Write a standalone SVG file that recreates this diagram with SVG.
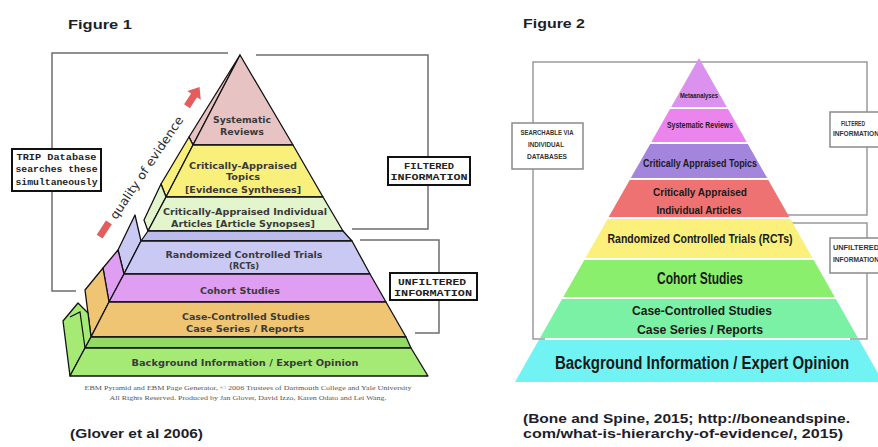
<svg xmlns="http://www.w3.org/2000/svg" width="878" height="447" viewBox="0 0 878 447">
<style>
.title{font-family:"Liberation Sans",Arial,sans-serif;font-weight:900;font-size:13px;fill:#1e1e2a}
.cite{font-family:"Liberation Sans",Arial,sans-serif;font-weight:bold;font-size:13px;fill:#1e1e2a}
.br1{fill:none;stroke:#6e6e6e;stroke-width:1.5}
.br2{fill:none;stroke:#9a9a9a;stroke-width:1.5}
.box1{fill:#fff;stroke:#111;stroke-width:2}
.box2{fill:#fff;stroke:#8a8a8a;stroke-width:1.5}
.mono{font-family:"Liberation Mono","DejaVu Sans Mono",monospace;font-weight:bold;font-size:9px;fill:#222;text-anchor:middle}
.tier1{stroke:#111;stroke-width:1.3;stroke-linejoin:round}
.t1{font-family:"DejaVu Sans",Verdana,sans-serif;font-weight:bold;font-size:8.5px;fill:#3a3a3a;text-anchor:middle}
.t2{font-family:"Liberation Sans",Arial,sans-serif;font-weight:bold;fill:#1a1a1a;text-anchor:middle}
.small2{font-family:"Liberation Sans",Arial,sans-serif;font-weight:bold;font-size:6.5px;fill:#333;text-anchor:middle}
.copy{font-family:"Liberation Serif","Times New Roman",serif;font-size:5.6px;fill:#555;text-anchor:middle}
</style>

<!-- ===== Figure 1 ===== -->
<text class="title" x="68" y="29" textLength="64" lengthAdjust="spacingAndGlyphs">Figure 1</text>

<g id="fig1-connectors">
  <polyline class="br1" points="52,149 52,53 228,53"/>
  <polyline class="br1" points="52,191 52,291 76,291"/>
  <polyline class="br1" points="256,55 428,55 428,157"/>
  <polyline class="br1" points="428,185 428,229 352,229"/>
  <polyline class="br1" points="360,240 439,240 439,273"/>
  <polyline class="br1" points="439,300 439,333 415,333"/>
</g>

<g id="fig1-pyramid">
  <g id="tier-systematic-reviews">
    <polygon class="tier1" fill="#e8c3c3" points="240,55 189,137 193,145"/>
    <polygon class="tier1" fill="#e8c3c3" points="240,55 293,145 193,145"/>
    <text class="t1" x="242" y="123" textLength="58" lengthAdjust="spacingAndGlyphs">Systematic</text>
    <text class="t1" x="242" y="135" textLength="44" lengthAdjust="spacingAndGlyphs">Reviews</text>
  </g>
  <g id="tier-cat">
    <polygon class="tier1" fill="#f9f07c" points="189,137 193,145 166,197 161,184"/>
    <polygon class="tier1" fill="#f9f07c" points="193,145 293,145 323,197 166,197"/>
    <text class="t1" x="243" y="169" textLength="108" lengthAdjust="spacingAndGlyphs">Critically-Appraised</text>
    <text class="t1" x="243" y="180" textLength="34" lengthAdjust="spacingAndGlyphs">Topics</text>
    <text class="t1" x="243" y="193" textLength="116" lengthAdjust="spacingAndGlyphs">[Evidence Syntheses]</text>
  </g>
  <g id="tier-caia">
    <polygon class="tier1" fill="#e3f5cd" points="161,184 166,197 148,231 144,220"/>
    <polygon class="tier1" fill="#e3f5cd" points="166,197 323,197 343,231 148,231"/>
    <text class="t1" x="245" y="215" textLength="164" lengthAdjust="spacingAndGlyphs">Critically-Appraised Individual</text>
    <text class="t1" x="243" y="227" textLength="144" lengthAdjust="spacingAndGlyphs">Articles [Article Synopses]</text>
  </g>
  <g id="tier-rct">
    <polygon class="tier1" fill="#c9c9f3" points="135,215 141,241 124,274 118,250"/>
    <polygon class="tier1" fill="#bcbcec" points="148,231 343,231 352,241 141,241"/>
    <polygon class="tier1" fill="#c9c9f3" points="141,241 352,241 370,274 124,274"/>
    <text class="t1" x="244" y="258" textLength="157" lengthAdjust="spacingAndGlyphs">Randomized Controlled Trials</text>
    <text class="t1" x="244" y="269" textLength="30" lengthAdjust="spacingAndGlyphs">(RCTs)</text>
  </g>
  <g id="tier-cohort">
    <polygon class="tier1" fill="#e09ef2" points="118,250 124,274 109,302 103,268"/>
    <polygon class="tier1" fill="#e09ef2" points="124,274 370,274 386,302 109,302"/>
    <text class="t1" x="240" y="294" textLength="80" lengthAdjust="spacingAndGlyphs">Cohort Studies</text>
  </g>
  <g id="tier-case">
    <polygon class="tier1" fill="#efc574" points="103,268 109,302 91,337 85,290"/>
    <polygon class="tier1" fill="#efc574" points="109,302 386,302 406,337 91,337"/>
    <text class="t1" x="246" y="320" textLength="128" lengthAdjust="spacingAndGlyphs">Case-Controlled Studies</text>
    <text class="t1" x="245" y="332" textLength="118" lengthAdjust="spacingAndGlyphs">Case Series / Reports</text>
  </g>
  <g id="tier-background">
    <polygon class="tier1" fill="#a6ea76" points="63,321 78,303 88,313 91,337 85,348 70,376"/>
    <polyline fill="none" stroke="#111" stroke-width="1.2" points="70,317 80,312 85,348"/>
    <polygon class="tier1" fill="#93d965" points="91,337 406,337 411,348 85,348"/>
    <polygon class="tier1" fill="#a6ea76" points="85,348 411,348 428,376 70,376"/>
    <text class="t1" x="245" y="366" textLength="227" lengthAdjust="spacingAndGlyphs">Background Information / Expert Opinion</text>
  </g>
</g>

<g id="fig1-quality">
  <rect x="-8" y="-3.5" width="17" height="7" fill="#e45c5c" transform="translate(104,230) rotate(-57)"/>
  <polygon fill="#e45c5c" points="-11,-3.5 2,-3.5 2,-8 12,0 2,8 2,3.5 -11,3.5" transform="translate(193,97) rotate(-57)"/>
  <text x="150" y="170" font-family="DejaVu Sans, Verdana, sans-serif" font-size="12" fill="#2a2a2a" text-anchor="middle" textLength="121" lengthAdjust="spacingAndGlyphs" transform="rotate(-56 150 170)">quality of evidence</text>
</g>

<g id="trip-box">
  <rect class="box1" x="12" y="149" width="89" height="42"/>
  <text class="mono" x="56.5" y="160" textLength="80" lengthAdjust="spacingAndGlyphs">TRIP Database</text>
  <text class="mono" x="56.5" y="172" textLength="82" lengthAdjust="spacingAndGlyphs">searches these</text>
  <text class="mono" x="56.5" y="185" textLength="82" lengthAdjust="spacingAndGlyphs">simultaneously</text>
</g>
<g id="filtered-box-1">
  <rect class="box1" x="388" y="157" width="82" height="28"/>
  <text class="mono" x="429" y="169" textLength="50" lengthAdjust="spacingAndGlyphs">FILTERED</text>
  <text class="mono" x="429" y="180" textLength="77" lengthAdjust="spacingAndGlyphs">INFORMATION</text>
</g>
<g id="unfiltered-box-1">
  <rect class="box1" x="390" y="273" width="87" height="27"/>
  <text class="mono" x="432" y="285" textLength="68" lengthAdjust="spacingAndGlyphs">UNFILTERED</text>
  <text class="mono" x="433" y="296" textLength="78" lengthAdjust="spacingAndGlyphs">INFORMATION</text>
</g>

<text class="copy" x="248" y="390" textLength="327" lengthAdjust="spacingAndGlyphs">EBM Pyramid and EBM Page Generator, © 2006 Trustees of Dartmouth College and Yale University</text>
<text class="copy" x="248" y="400" textLength="277" lengthAdjust="spacingAndGlyphs">All Rights Reserved. Produced by Jan Glover, David Izzo, Karen Odato and Lei Wang.</text>

<text class="cite" x="70" y="438" textLength="133" lengthAdjust="spacingAndGlyphs">(Glover et al 2006)</text>

<!-- ===== Figure 2 ===== -->
<text class="title" x="523" y="28" textLength="62" lengthAdjust="spacingAndGlyphs">Figure 2</text>

<g id="fig2-connectors">
  <polyline class="br2" points="533,123 533,62 867,62 867,112"/>
  <polyline class="br2" points="533,169 533,339 545,339"/>
  <polyline class="br2" points="867,147 867,215 780,215"/>
  <polyline class="br2" points="790,223 867,223 867,238"/>
  <polyline class="br2" points="867,273 867,339 850,339"/>
</g>

<g id="fig2-pyramid">
  <g id="p2-meta">
    <polygon fill="#da92ee" points="699,58 726.8,107 671.2,107"/>
    <text class="t2" x="699" y="98" font-size="6.5" textLength="38" lengthAdjust="spacingAndGlyphs">Metaanalyses</text>
  </g>
  <g id="p2-sr">
    <polygon fill="#ec84ee" points="670,109 728,109 746.7,142 651.3,142"/>
    <text class="t2" x="700" y="128" font-size="8.5" textLength="66" lengthAdjust="spacingAndGlyphs">Systematic Reviews</text>
  </g>
  <g id="p2-cat">
    <polygon fill="#a385de" points="650.2,144 747.8,144 767.2,178 630.8,178"/>
    <text class="t2" x="700" y="167" font-size="10.5" textLength="114" lengthAdjust="spacingAndGlyphs">Critically Appraised Topics</text>
  </g>
  <g id="p2-caia">
    <polygon fill="#ef7272" points="629.7,180 768.3,180 789.3,217 608.7,217"/>
    <text class="t2" x="700" y="196" font-size="10.5" textLength="94" lengthAdjust="spacingAndGlyphs">Critically Appraised</text>
    <text class="t2" x="699" y="214" font-size="10.5" textLength="85" lengthAdjust="spacingAndGlyphs">Individual Articles</text>
  </g>
  <g id="p2-rct">
    <polygon fill="#fbf07c" points="607.6,219 790.4,219 812.6,258 585.4,258"/>
    <text class="t2" x="700" y="243" font-size="12.5" textLength="185" lengthAdjust="spacingAndGlyphs">Randomized Controlled Trials (RCTs)</text>
  </g>
  <g id="p2-cohort">
    <polygon fill="#8aef6c" points="584.3,260 813.7,260 834.7,297 563.3,297"/>
    <text class="t2" x="700" y="284" font-size="16" textLength="86" lengthAdjust="spacingAndGlyphs">Cohort Studies</text>
  </g>
  <g id="p2-case">
    <polygon fill="#7af1a4" points="562.1,299 835.9,299 858,338 540,338"/>
    <text class="t2" x="702" y="315" font-size="13.5" textLength="140" lengthAdjust="spacingAndGlyphs">Case-Controlled Studies</text>
    <text class="t2" x="700" y="334" font-size="13.5" textLength="126" lengthAdjust="spacingAndGlyphs">Case Series / Reports</text>
  </g>
  <g id="p2-background">
    <polygon fill="#72f3f3" points="538.8,340 859.2,340 883,382 515,382"/>
    <text class="t2" font-size="19" transform="translate(702,369) scale(0.79,1)" x="0" y="0">Background Information / Expert Opinion</text>
  </g>
</g>

<g id="searchable-box">
  <rect class="box2" x="512" y="123" width="71" height="46"/>
  <text class="small2" x="547" y="135" textLength="53" lengthAdjust="spacingAndGlyphs">SEARCHABLE VIA</text>
  <text class="small2" x="546" y="147" textLength="36" lengthAdjust="spacingAndGlyphs">INDIVIDUAL</text>
  <text class="small2" x="547" y="159" textLength="40" lengthAdjust="spacingAndGlyphs">DATABASES</text>
</g>
<g id="filtered-box-2">
  <rect class="box2" x="830" y="112" width="60" height="35"/>
  <text class="small2" x="853" y="126" textLength="24" lengthAdjust="spacingAndGlyphs">FILTERED</text>
  <text class="small2" x="856" y="136" textLength="46" lengthAdjust="spacingAndGlyphs">INFORMATION</text>
</g>
<g id="unfiltered-box-2">
  <rect class="box2" x="830" y="238" width="60" height="35"/>
  <text class="small2" x="856" y="250" textLength="46" lengthAdjust="spacingAndGlyphs">UNFILTERED</text>
  <text class="small2" x="856" y="262" textLength="46" lengthAdjust="spacingAndGlyphs">INFORMATION</text>
</g>

<text class="cite" x="523" y="423" textLength="327" lengthAdjust="spacingAndGlyphs">(Bone and Spine, 2015; http://boneandspine.</text>
<text class="cite" x="523" y="438" textLength="320" lengthAdjust="spacingAndGlyphs">com/what-is-hierarchy-of-evidence/, 2015)</text>
</svg>
